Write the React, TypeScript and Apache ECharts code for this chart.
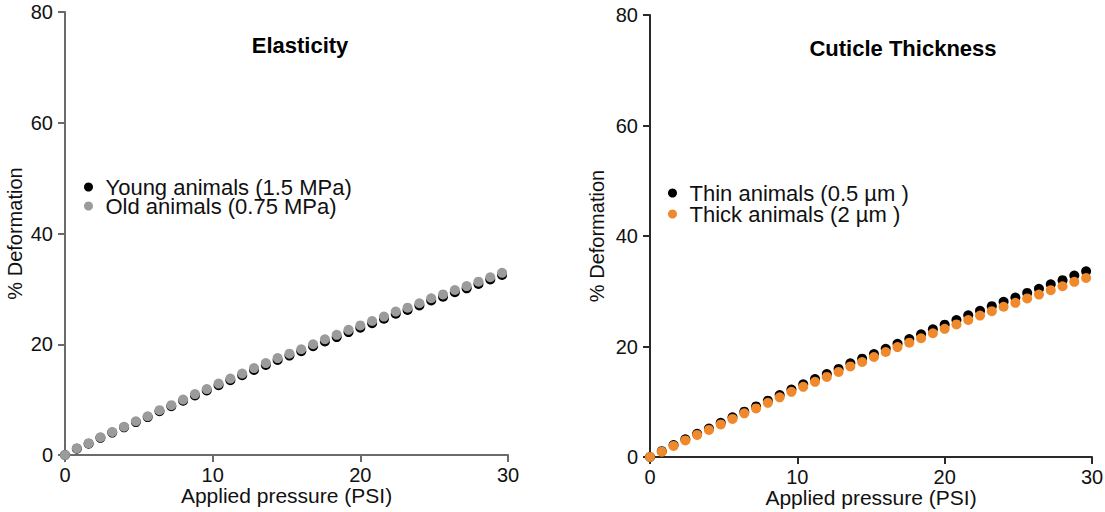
import React, { useEffect, useRef } from "react";
import * as echarts from "echarts";

const pressure = [0, 0.8, 1.6, 2.4, 3.2, 4, 4.8, 5.6, 6.4, 7.2, 8, 8.8, 9.6, 10.4, 11.2, 12, 12.8, 13.6, 14.4, 15.2, 16, 16.8, 17.6, 18.4, 19.2, 20, 20.8, 21.6, 22.4, 23.2, 24, 24.8, 25.6, 26.4, 27.2, 28, 28.8, 29.6];

const youngAnimals = [0, 1.15, 2.05, 3.1, 4.05, 5.0, 5.95, 6.85, 7.9, 8.8, 9.8, 10.75, 11.65, 12.6, 13.5, 14.4, 15.35, 16.25, 17.15, 17.95, 18.75, 19.65, 20.5, 21.3, 22.2, 23.0, 23.8, 24.6, 25.5, 26.2, 27.0, 27.9, 28.6, 29.4, 30.1, 30.9, 31.7, 32.5];
const oldAnimals = [0, 1.2, 2.1, 3.2, 4.15, 5.1, 6.1, 7.0, 8.1, 9.0, 10.0, 11.0, 11.9, 12.9, 13.8, 14.7, 15.7, 16.6, 17.5, 18.3, 19.1, 20.0, 20.9, 21.7, 22.6, 23.4, 24.2, 25.0, 25.9, 26.6, 27.4, 28.3, 29.0, 29.8, 30.5, 31.3, 32.1, 32.9];

const thinAnimals = [0, 1.05, 2.15, 3.2, 4.2, 5.15, 6.2, 7.2, 8.2, 9.15, 10.2, 11.2, 12.2, 13.15, 14.1, 15.0, 15.95, 16.95, 17.8, 18.65, 19.6, 20.5, 21.35, 22.2, 23.1, 23.95, 24.8, 25.65, 26.45, 27.3, 28.1, 28.85, 29.7, 30.45, 31.25, 32.0, 32.85, 33.6];
const thickAnimals = [0, 0.97, 2.0, 3.0, 4.0, 4.9, 5.9, 6.9, 7.9, 8.8, 9.8, 10.8, 11.8, 12.7, 13.6, 14.5, 15.4, 16.4, 17.2, 18.1, 19.0, 19.9, 20.7, 21.5, 22.4, 23.2, 24.0, 24.8, 25.6, 26.4, 27.2, 27.9, 28.7, 29.4, 30.2, 30.9, 31.7, 32.4];

const xTicks = { min: 0, max: 30, interval: 10 };
const yTicks = { min: 0, max: 80, interval: 20 };

const seriesNames = {
  young: "Young animals (1.5 MPa)",
  old: "Old animals (0.75 MPa)",
  thin: "Thin animals (0.5 µm )",
  thick: "Thick animals (2 µm )",
};
const titles = ["Elasticity", "Cuticle Thickness"];
const xTitle = "Applied pressure (PSI)";
const yTitle = "% Deformation";

const FONT = "Liberation Sans, Arial, Helvetica, sans-serif";

const zip = (ys: number[]) => pressure.map((x, i) => [x, ys[i]]);

function xAxis(gridIndex: number, color: string) {
  return {
    type: "value",
    gridIndex,
    ...xTicks,
    name: xTitle,
    nameLocation: "middle",
    nameGap: 30,
    nameMoveOverlap: false,
    nameTextStyle: { fontSize: 21, color: "#111", fontFamily: FONT },
    axisLine: { show: true, onZero: false, lineStyle: { color, width: 2 } },
    axisTick: { show: true, length: 7, lineStyle: { color, width: 2 } },
    axisLabel: { fontSize: 20, color: "#111", fontFamily: FONT, margin: 10 },
    splitLine: { show: false },
  };
}

function yAxis(gridIndex: number, color: string, gap: number) {
  return {
    type: "value",
    gridIndex,
    ...yTicks,
    name: yTitle,
    nameLocation: "middle",
    nameRotate: 90,
    nameGap: gap,
    nameTextStyle: { fontSize: 20, color: "#111", fontFamily: FONT },
    axisLine: { show: true, onZero: false, lineStyle: { color, width: 2 } },
    axisTick: { show: true, length: 7, lineStyle: { color, width: 2 } },
    axisLabel: { fontSize: 20, color: "#111", fontFamily: FONT, margin: 12 },
    splitLine: { show: false },
  };
}

function scatter(name: string, idx: number, color: string, ys: number[]) {
  return {
    name,
    type: "scatter",
    xAxisIndex: idx,
    yAxisIndex: idx,
    symbolSize: 10,
    itemStyle: { color, opacity: 1 },
    emphasis: { disabled: true },
    data: zip(ys),
  };
}

export default function App() {
  const ref = useRef<HTMLDivElement>(null);

  useEffect(() => {
    if (!ref.current) return;
    const chart = echarts.init(ref.current, undefined, { renderer: "svg" });
    chart.setOption({
      animation: false,
      backgroundColor: "#ffffff",
      grid: [
        { left: 65, top: 12, width: 443, height: 443, containLabel: false, outerBoundsMode: "none" },
        { left: 650, top: 15, width: 442, height: 442, containLabel: false, outerBoundsMode: "none" },
      ],
      xAxis: [xAxis(0, "#6a6a6a"), xAxis(1, "#2a2a2a")],
      yAxis: [yAxis(0, "#6a6a6a", 40), yAxis(1, "#2a2a2a", 43)],
      legend: [
        {
          left: 79,
          top: 171,
          orient: "vertical",
          icon: "circle",
          itemWidth: 24,
          itemHeight: 9,
          itemGap: -3,
          data: [seriesNames.young, seriesNames.old],
          textStyle: { fontSize: 22, color: "#111", fontFamily: FONT },
        },
        {
          left: 663,
          top: 177,
          orient: "vertical",
          icon: "circle",
          itemWidth: 24,
          itemHeight: 9,
          itemGap: -1,
          data: [seriesNames.thin, seriesNames.thick],
          textStyle: { fontSize: 22, color: "#111", fontFamily: FONT },
        },
      ],
      graphic: [
        {
          type: "text",
          x: 300,
          y: 45,
          style: {
            text: titles[0],
            font: `bold 22px ${FONT}`,
            fill: "#000",
            textAlign: "center",
            textVerticalAlign: "middle",
            align: "center",
            verticalAlign: "middle",
          },
        },
        {
          type: "text",
          x: 903,
          y: 48,
          style: {
            text: titles[1],
            font: `bold 22px ${FONT}`,
            fill: "#000",
            textAlign: "center",
            textVerticalAlign: "middle",
            align: "center",
            verticalAlign: "middle",
          },
        },
      ],
      series: [
        scatter(seriesNames.young, 0, "#000000", youngAnimals),
        scatter(seriesNames.old, 0, "#9b9b9b", oldAnimals),
        scatter(seriesNames.thin, 1, "#000000", thinAnimals),
        scatter(seriesNames.thick, 1, "#f0892c", thickAnimals),
      ],
    });
    return () => chart.dispose();
  }, []);

  return (
    <div
      ref={ref}
      style={{ position: "fixed", left: 0, top: 0, width: 1105, height: 512, background: "#fff" }}
    />
  );
}
